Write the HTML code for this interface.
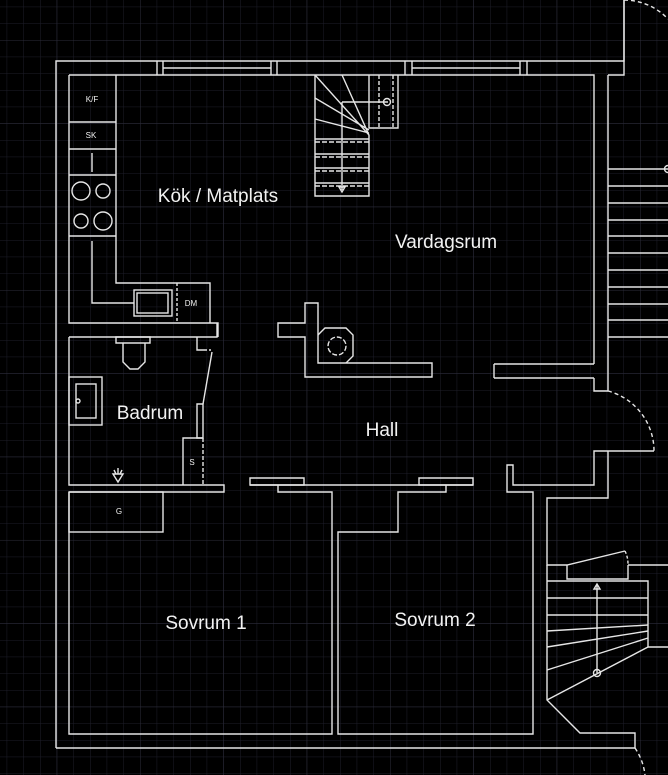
<!DOCTYPE html>
<html><head><meta charset="utf-8"><style>
html,body{margin:0;padding:0;background:#000;width:668px;height:775px;overflow:hidden}
svg{display:block}
text{font-family:"Liberation Sans",Arial,sans-serif;fill:#f2f2f2}
</style></head><body>
<svg width="668" height="775" viewBox="0 0 668 775" xmlns="http://www.w3.org/2000/svg">
<defs>
<pattern id="g" x="6.67" y="6.67" width="16.667" height="16.667" patternUnits="userSpaceOnUse">
<path d="M0 0H16.667M0 0V16.667" stroke="#1e1e2a" stroke-width="1" fill="none"/>
</pattern>
<pattern id="G" x="56.7" y="40" width="83.33" height="83.33" patternUnits="userSpaceOnUse">
<path d="M0 0H83.33M0 0V83.33" stroke="#2c2c3a" stroke-width="1" fill="none"/>
</pattern>
</defs>
<rect width="668" height="775" fill="#000"/>
<rect width="668" height="775" fill="url(#g)"/>
<rect width="668" height="775" fill="url(#G)"/>
<g stroke="#e6e6e6" stroke-width="1.4" fill="none">
<path d="M56 748V61H624V0"/>
<path d="M624 0V75H608"/>
<path d="M69 75H594V364"/>
<path d="M608 75V391"/>
<path d="M157 61V75M163 61V75M271 61V75M277 61V75M163 68H271"/>
<path d="M405 61V75M412 61V75M520 61V75M527 61V75M412 68H520"/>
<path d="M624 0A61 61 0 0 1 668 19" stroke-dasharray="4 3"/>
<path d="M608 169H668M608 186H668M608 203H668M608 220H668M608 236H668M608 253H668M608 270H668M608 287H668M608 304H668M608 320H668M608 337H668"/>
<circle cx="668" cy="169" r="3.5"/>
<path d="M594 378V391H608"/>
<path d="M608 391A62 62 0 0 1 654 451" stroke-dasharray="4 3"/>
<path d="M654 451H594V485H513V465H507V492H533V580"/>
<path d="M494 364H594M494 378H594M494 364V378"/>
<path d="M608 451V498H547V565H567L625 551"/>
<path d="M625 551A30 30 0 0 1 628 565" stroke-dasharray="3 2"/>
<path d="M628 565H668M628 565V579H567V565"/>
<path d="M547 565V700L580 733H635V748"/>
<path d="M547 581H648V647H668"/>
<path d="M547 598H648M547 615H648M547 631L648 625M547 647L648 631M547 670L648 638M547 700L648 647"/>
<path d="M597 673V585"/>
<path d="M594 589L597 584L600 589Z"/>
<circle cx="597" cy="673" r="3.5"/>
<path d="M635 748A60 60 0 0 1 645 775" stroke-dasharray="4 3"/>
<path d="M56 748H635"/>
<path d="M533 580V734H338V532H398V492H446V485"/>
<path d="M69 492V734H332V492H278V485"/>
<path d="M69 337V485H224V492H69"/>
<path d="M250 478H304V485H250ZM419 478H473V485H419Z"/>
<path d="M250 485H473"/>
<rect x="69" y="492" width="94" height="40"/>
<path d="M69 337H217V323"/>
<path d="M116 337H150V343H116Z"/>
<path d="M123 343V362L130 369H138L145 362V343"/>
<rect x="69" y="377" width="33" height="48"/>
<rect x="76" y="384" width="20" height="34"/>
<circle cx="78" cy="401" r="2"/>
<path d="M197 337V350H205"/>
<path d="M205 350H212" stroke-dasharray="2 2"/>
<path d="M212 352L203 404"/>
<path d="M197 404H203V438H197Z"/>
<path d="M183 485V438H203"/>
<path d="M203 438V485" stroke-dasharray="4 2"/>
<path d="M113 474L118 482L123 474ZM114 470L116 474M118 468V474M122 470L120 474"/>
<path d="M69 75V323H218V337"/>
<path d="M116 75V236M69 122H116M69 149H116M69 175H116M69 236H116M92 153V172"/>
<circle cx="81" cy="191" r="9"/><circle cx="103" cy="191" r="7"/>
<circle cx="81" cy="221" r="7"/><circle cx="103" cy="221" r="9"/>
<path d="M116 236V283H210V323"/>
<path d="M92 241V303H134"/>
<rect x="134" y="290" width="38" height="26"/>
<rect x="137" y="293" width="31" height="20"/>
<path d="M177 283V323" stroke-dasharray="3 2"/>
<path d="M278 323H305V303H318V363H432V377H305V337H278Z"/>
<path d="M318 335L325 328H346L353 335V356L346 363"/>
<circle cx="337" cy="346" r="9" stroke-dasharray="5 2"/>
<path d="M315 75V196H369V135"/>
<path d="M315 75L369 135M342 75L369 135M315 98L369 130M315 119L369 133"/>
<path d="M342 102V190M342 102H388"/>
<path d="M369 75V128H398V75"/>
<path d="M379 75V128M393 75V128" stroke-dasharray="4 2"/>
<circle cx="387" cy="102" r="3.5"/>
<path d="M315 139H369M315 154H369M315 168H369M315 183H369"/>
<path d="M315 142H369M315 157H369M315 171H369M315 186H369" stroke-dasharray="5 2"/>
<path d="M339 187L342 192L345 187Z"/>
</g>
<g font-size="19">
<text x="218" y="202" text-anchor="middle">Kök / Matplats</text>
<text x="446" y="248" text-anchor="middle">Vardagsrum</text>
<text x="150" y="419" text-anchor="middle">Badrum</text>
<text x="382" y="436" text-anchor="middle">Hall</text>
<text x="206" y="629" text-anchor="middle">Sovrum 1</text>
<text x="435" y="626" text-anchor="middle">Sovrum 2</text>
</g>
<g font-size="8" text-anchor="middle">
<text x="92" y="102">K/F</text>
<text x="91" y="138">SK</text>
<text x="191" y="306">DM</text>
<text x="192" y="465">S</text>
<text x="119" y="514">G</text>
</g>
</svg>
</body></html>
